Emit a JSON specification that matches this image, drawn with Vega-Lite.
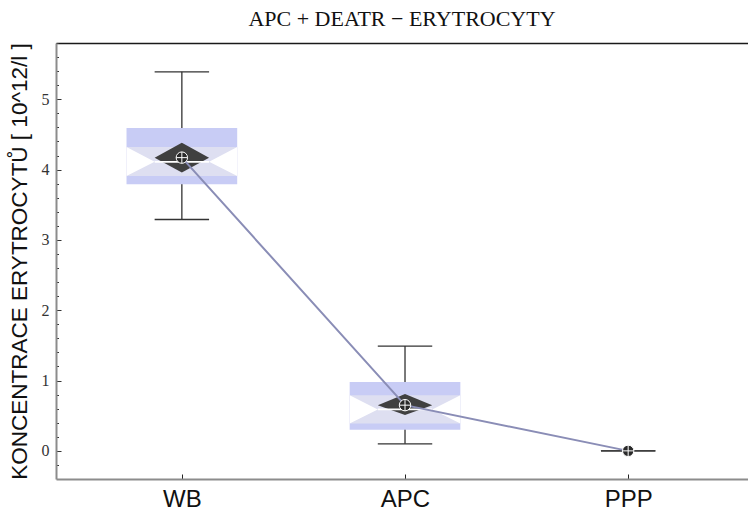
{
  "$schema": "https://vega.github.io/schema/vega-lite/v6.json",
  "width": 692,
  "height": 436,
  "autosize": {"type": "none"},
  "padding": {"left": 56, "top": 43, "right": 0, "bottom": 36},
  "background": "white",
  "config": {"view": {"stroke": null}},
  "title": {
    "text": "APC + DEATR − ERYTROCYTY",
    "font": "Liberation Serif",
    "fontSize": 22,
    "fontWeight": "normal",
    "color": "#111111",
    "anchor": "middle",
    "offset": 4
  },
  "datasets": {
    "stats": [
      {"sample": "WB", "min": 3.29, "q1": 3.79, "nlo": 3.91, "med": 4.11, "nhi": 4.32, "q3": 4.59, "max": 5.39, "mean": 4.17, "dlo": 3.96, "dhi": 4.38},
      {"sample": "APC", "min": 0.10, "q1": 0.30, "nlo": 0.39, "med": 0.59, "nhi": 0.79, "q3": 0.98, "max": 1.49, "mean": 0.65, "dlo": 0.51, "dhi": 0.81},
      {"sample": "PPP", "min": 0, "q1": 0, "nlo": 0, "med": 0, "nhi": 0, "q3": 0, "max": 0, "mean": 0, "dlo": 0, "dhi": 0}
    ]
  },
  "data": {"name": "stats"},
  "transform": [
    {"calculate": "indexof(['WB','APC','PPP'], datum.sample) + 1", "as": "pos"},
    {"calculate": "datum.pos - 0.248", "as": "xl"},
    {"calculate": "datum.pos + 0.248", "as": "xr"},
    {"calculate": "datum.pos - 0.122", "as": "nl"},
    {"calculate": "datum.pos + 0.122", "as": "nr"}
  ],
  "layer": [
    {
      "mark": {"type": "rule", "color": "#333333", "strokeWidth": 1.3},
      "encoding": {
        "x": {
          "field": "pos", "type": "quantitative",
          "scale": {"domain": [0.436, 3.537], "nice": false, "zero": false},
          "axis": {
            "title": null,
            "values": [1, 2, 3],
            "tickCount": 10,
            "labelExpr": "['', 'WB', 'APC', 'PPP'][datum.value]",
            "labelFont": "Liberation Sans",
            "labelFontSize": 24,
            "labelColor": "#111111",
            "labelPadding": 13,
            "labelOverlap": false,
            "tickSize": -5,
            "tickColor": "#222222",
            "tickWidth": 1,
            "domainColor": "#8c8c8c",
            "domainWidth": 2,
            "grid": false
          }
        },
        "y": {
          "field": "min", "type": "quantitative",
          "scale": {"domain": [-0.4, 5.8], "nice": false, "zero": false},
          "axis": {
            "title": "KONCENTRACE ERYTROCYTŮ [ 10^12/l ]",
            "values": [-0.2, 0, 0.2, 0.4, 0.6, 0.8, 1, 1.2, 1.4, 1.6, 1.8, 2, 2.2, 2.4, 2.6, 2.8, 3, 3.2, 3.4, 3.6, 3.8, 4, 4.2, 4.4, 4.6, 4.8, 5, 5.2, 5.4, 5.6, 5.8],
            "tickCount": 100,
            "labelExpr": "datum.value % 1 === 0 ? format(datum.value, 'd') : ''",
            "labelOverlap": false,
            "labelFont": "Liberation Serif",
            "labelFontSize": 16,
            "labelColor": "#333333",
            "labelPadding": 12,
            "tickSize": {"condition": {"test": "datum.value % 1 === 0", "value": -5}, "value": -2.5},
            "tickColor": "#333333",
            "tickWidth": 1,
            "domainColor": "#8c8c8c",
            "domainWidth": 2,
            "grid": true,
            "gridColor": {"condition": {"test": "datum.value === 5.8", "value": "#1a1a1a"}, "value": "transparent"},
            "gridWidth": 1.5,
            "titleFont": "Liberation Sans",
            "titleFontSize": 22.5,
            "titleFontWeight": "normal",
            "titleColor": "#111111",
            "titlePadding": 10
          }
        },
        "y2": {"field": "max"}
      }
    },
    {
      "mark": {"type": "rect", "fill": "#c8ccf5"},
      "encoding": {
        "x": {"field": "xl", "type": "quantitative"},
        "x2": {"field": "xr"},
        "y": {"field": "q1", "type": "quantitative"},
        "y2": {"field": "q3"}
      }
    },
    {
      "mark": {"type": "rect", "fill": "#dedff1"},
      "encoding": {
        "x": {"field": "xl", "type": "quantitative"},
        "x2": {"field": "xr"},
        "y": {"field": "nlo", "type": "quantitative"},
        "y2": {"field": "nhi"}
      }
    },
    {
      "transform": [
        {"calculate": "[0, 1, 2, 3]", "as": "v"},
        {"flatten": ["v"]},
        {"calculate": "[datum.xl, datum.nl, datum.nr, datum.xr][datum.v]", "as": "vx"},
        {"calculate": "datum.v == 0 || datum.v == 3 ? datum.nhi : datum.med", "as": "vy"},
        {"calculate": "datum.v == 0 || datum.v == 3 ? datum.nlo : datum.med", "as": "vy2"}
      ],
      "mark": {"type": "area", "fill": "white", "orient": "vertical"},
      "encoding": {
        "x": {"field": "vx", "type": "quantitative"},
        "y": {"field": "vy", "type": "quantitative"},
        "y2": {"field": "vy2"},
        "detail": {"field": "sample"}
      }
    },
    {
      "transform": [
        {"calculate": "[0, 1, 2]", "as": "v"},
        {"flatten": ["v"]},
        {"calculate": "[datum.nl, datum.pos, datum.nr][datum.v]", "as": "vx"},
        {"calculate": "datum.v == 1 ? datum.dhi : datum.mean", "as": "vy"},
        {"calculate": "datum.v == 1 ? datum.dlo : datum.mean", "as": "vy2"}
      ],
      "mark": {"type": "area", "fill": "#404040", "orient": "vertical"},
      "encoding": {
        "x": {"field": "vx", "type": "quantitative"},
        "y": {"field": "vy", "type": "quantitative"},
        "y2": {"field": "vy2"},
        "detail": {"field": "sample"}
      }
    },
    {
      "transform": [{"filter": "datum.q3 > datum.q1"}],
      "mark": {"type": "rule", "color": "white", "strokeWidth": 1.6},
      "encoding": {
        "x": {"field": "nl", "type": "quantitative"},
        "x2": {"field": "nr"},
        "y": {"field": "med", "type": "quantitative"}
      }
    },
    {
      "mark": {"type": "rule", "color": "#333333", "strokeWidth": 1.3},
      "encoding": {
        "x": {"field": "nl", "type": "quantitative"},
        "x2": {"field": "nr"},
        "y": {"field": "max", "type": "quantitative"}
      }
    },
    {
      "mark": {"type": "rule", "color": "#333333", "strokeWidth": 1.3},
      "encoding": {
        "x": {"field": "nl", "type": "quantitative"},
        "x2": {"field": "nr"},
        "y": {"field": "min", "type": "quantitative"}
      }
    },
    {
      "mark": {"type": "line", "color": "#8a8db6", "strokeWidth": 2},
      "encoding": {
        "x": {"field": "pos", "type": "quantitative"},
        "y": {"field": "mean", "type": "quantitative"}
      }
    },
    {
      "mark": {"type": "point", "shape": "circle", "filled": true, "fill": "#2a2a2a", "stroke": "white", "strokeWidth": 1, "size": 130, "opacity": 1},
      "encoding": {
        "x": {"field": "pos", "type": "quantitative"},
        "y": {"field": "mean", "type": "quantitative"}
      }
    },
    {
      "mark": {"type": "point", "shape": "M-1,0H1M0,-1V1", "filled": false, "stroke": "white", "strokeWidth": 1, "size": 130, "opacity": 1},
      "encoding": {
        "x": {"field": "pos", "type": "quantitative"},
        "y": {"field": "mean", "type": "quantitative"}
      }
    }
  ]
}
